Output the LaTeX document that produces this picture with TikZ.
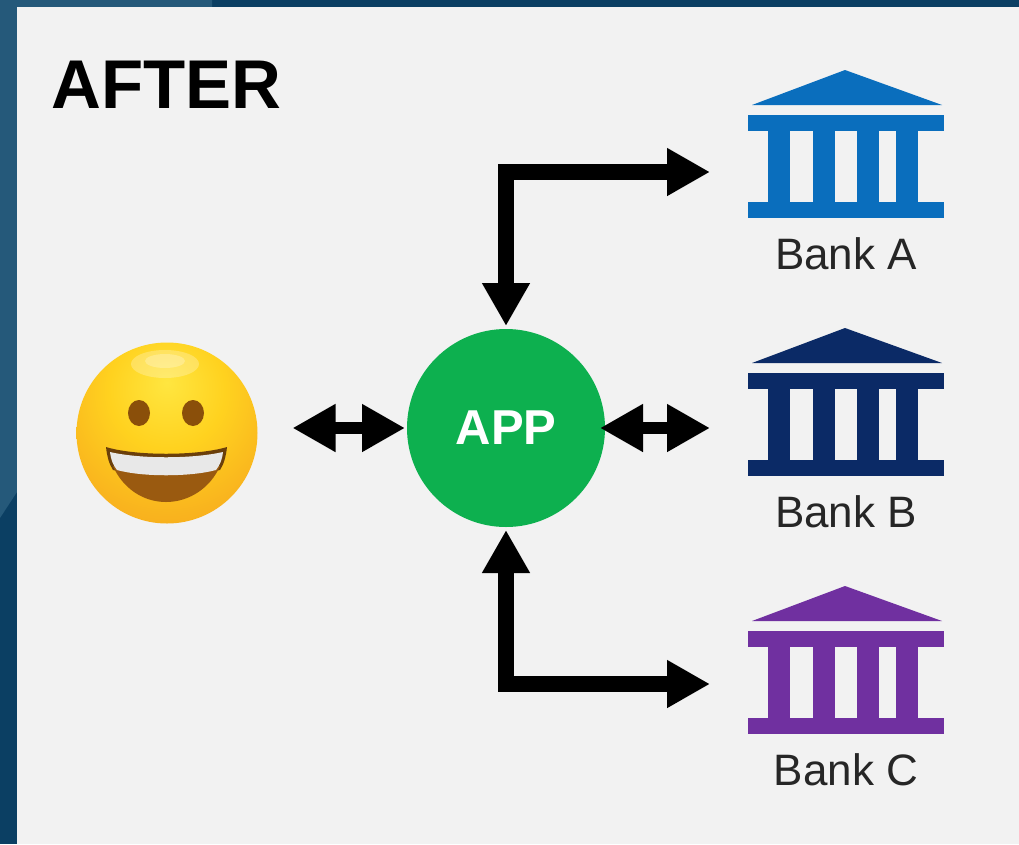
\documentclass[tikz,border=0pt]{standalone}
\usepackage{fontspec}
\setmainfont{Liberation Sans}
\usetikzlibrary{arrows.meta}
\definecolor{panel}{HTML}{F2F2F2}
\definecolor{stripA}{HTML}{25597A}
\definecolor{stripB}{HTML}{0B3F63}
\definecolor{bankblue}{HTML}{0A6EBD}
\definecolor{banknavy}{HTML}{0B2A66}
\definecolor{bankpurple}{HTML}{7030A0}
\definecolor{appgreen}{HTML}{0DB04F}
\definecolor{lbl}{HTML}{262626}
\definecolor{faceA}{HTML}{FFE640}
\definecolor{faceB}{HTML}{FFD21F}
\definecolor{faceC}{HTML}{F9B41E}
\definecolor{faceD}{HTML}{F39A18}
\definecolor{faceE}{HTML}{E88E1E}
\definecolor{eyecol}{HTML}{8A4F0A}
\definecolor{mouthcol}{HTML}{9A5A10}
\definecolor{mouthedge}{HTML}{6B3F0A}
\pgfdeclareradialshading{emojiface}{\pgfpoint{0bp}{14bp}}{
  color(0bp)=(faceA);
  color(16bp)=(faceB);
  color(32bp)=(faceC);
  color(50bp)=(faceD);
  color(64bp)=(faceE);
  color(100bp)=(faceE)}
\tikzset{
  bankzone/.style={minimum width=235pt,minimum height=204pt,inner sep=0pt,outer sep=0pt},
  banklabel/.style={text=lbl,font=\fontsize{44}{47}\selectfont,inner sep=0pt},
  twoway/.style={line width=#1,draw=black,line join=miter,
    {Triangle[length=43pt,width=45pt]}-{Triangle[length=43pt,width=45pt]}},
  twoway/.default=16pt
}
\newcommand{\bankicon}[2]{% colour, y offset
  \begin{scope}[shift={(0,#2)}]
    \fill[#1] (845,70) -- (942,105) -- (752,105) -- cycle;
    \fill[#1] (748,115) rectangle (944,131);
    \fill[#1] (748,202) rectangle (944,218);
    \fill[#1] (768,131) rectangle (790,202);
    \fill[#1] (813,131) rectangle (835,202);
    \fill[#1] (857,131) rectangle (879,202);
    \fill[#1] (896,131) rectangle (918,202);
  \end{scope}
}
\begin{document}
\begin{tikzpicture}[x=1pt,y=-1pt]
  \useasboundingbox (0,0) rectangle (1019,844);
  % backdrop
  \fill[stripB] (0,0) rectangle (1019,844);
  \fill[stripA] (0,0) -- (212,0) -- (212,7) -- (17,7) -- (17,492) -- (0,518) -- cycle;
  \fill[panel] (17,7) rectangle (1019,844);
  % title
  \node[anchor=base west,inner sep=0pt,font=\bfseries\fontsize{69}{72}\selectfont,text=black] (title) at (51,108) {AFTER};
  % face
  \node[circle,minimum size=181pt,inner sep=0pt,outer sep=0pt,shade,shading=emojiface] (face) at (167,433) {};
  \fill[white,opacity=.25] (165,364) ellipse (34 and 14);
  \fill[white,opacity=.25] (165,361) ellipse (20 and 7);
  \fill[eyecol] (139,413) ellipse (11 and 13);
  \fill[eyecol] (193,413) ellipse (11 and 13);
  \fill[mouthedge] (106,447) .. controls (135,456) and (197,456) .. (227,447)
     .. controls (226,456) and (224,464) .. (220,470)
     .. controls (190,477) and (142,477) .. (113,470)
     .. controls (109,464) and (107,456) .. (106,447) -- cycle;
  \fill[mouthcol] (113,466) .. controls (142,476) and (190,476) .. (220,466)
     .. controls (211,487) and (190,502) .. (166,502)
     .. controls (142,502) and (122,487) .. (113,466) -- cycle;
  \fill[black!9] (110,452) .. controls (140,459) and (192,459) .. (223,452)
     .. controls (222,460) and (220,465) .. (216,470)
     .. controls (190,477) and (142,477) .. (117,470)
     .. controls (113,465) and (111,460) .. (110,452) -- cycle;
  % app
  \node[circle,fill=appgreen,minimum size=198pt,inner sep=0pt,outer sep=0pt,text=white,font=\bfseries\fontsize{49}{52}\selectfont] (app) at (506,428) {APP};
  % banks
  \node[bankzone] (bankA) at (827.5,172) {};
  \node[bankzone] (bankB) at (827.5,428) {};
  \node[bankzone] (bankC) at (827.5,684) {};
  \bankicon{bankblue}{0}
  \bankicon{banknavy}{258}
  \bankicon{bankpurple}{516}
  \node[banklabel] (labA) at (846,254) {Bank A};
  \node[banklabel] (labB) at (846,512) {Bank B};
  \node[banklabel] (labC) at (846,770) {Bank C};
  % connectors
  \draw[twoway,shorten <=3pt] (app.north) |- (bankA.west);
  \draw[twoway,shorten <=3pt] (app.south) |- (bankC.west);
  \draw[twoway=12pt,shorten <=35pt,shorten >=2pt] (face.east |- app.west) -- (app.west);
  \draw[twoway=12pt,shorten <=-5pt] (app.east) -- (bankB.west);
\end{tikzpicture}
\end{document}
